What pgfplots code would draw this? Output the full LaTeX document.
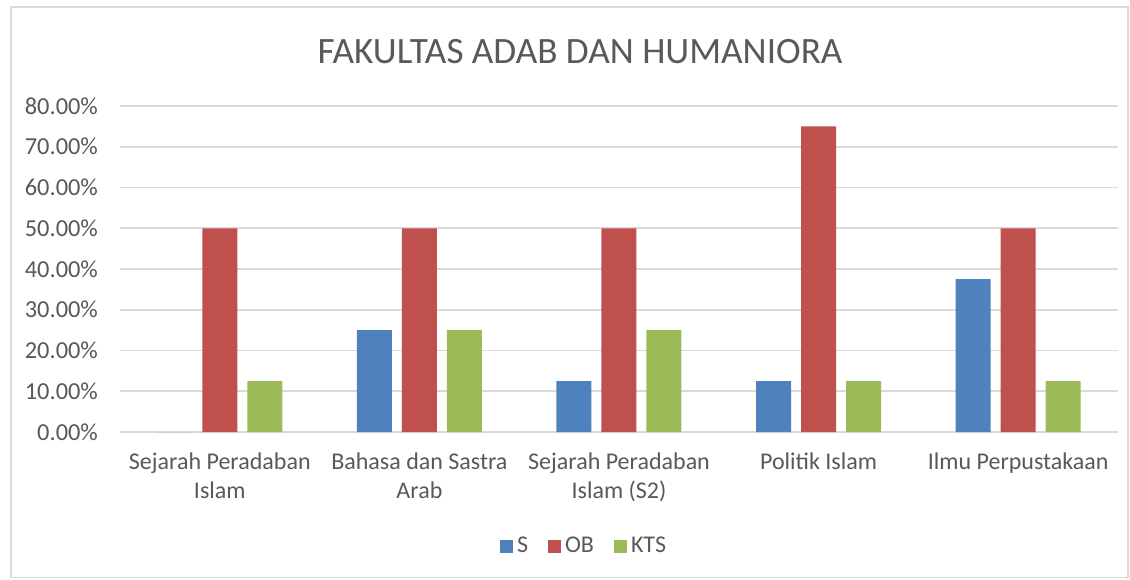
\documentclass[border=0pt]{standalone}
\usepackage{pgfplots}
\pgfplotsset{compat=1.18}
\usepackage{fontspec}
\setmainfont{Carlito}
\definecolor{sblue}{HTML}{4F81BD}
\definecolor{sred}{HTML}{C0504D}
\definecolor{sgreen}{HTML}{9BBB59}
\definecolor{txt}{HTML}{595959}
\definecolor{gridc}{HTML}{D9D9D9}
\begin{document}
\begin{tikzpicture}[x=1pt,y=1pt]
\fill[white] (0,0) rectangle (565,289.5);
\draw[color=gridc, line width=0.7pt] (5.5,0.8) rectangle (564,286);
\node[text=txt, font=\fontsize{18.6}{22}\selectfont] at (290,263.5) {FAKULTAS ADAB DAN HUMANIORA};
\begin{axis}[
  at={(60pt,73.5pt)}, anchor=south west,
  scale only axis, width=499pt, height=163pt,
  xmin=-0.5, xmax=4.5, ymin=0, ymax=80,
  ytick={0,10,...,80},
  yticklabel={\pgfmathprintnumber[fixed,fixed zerofill,precision=2]{\tick}\%},
  /pgf/number format/assume math mode=true,
  xtick={0,1,2,3,4},
  xticklabels={{Sejarah Peradaban\\Islam},{Bahasa dan Sastra\\Arab},{Sejarah Peradaban\\Islam (S2)},{Politik Islam},{Ilmu Perpustakaan}},
  xticklabel style={align=center, font=\fontsize{12}{14.5}\selectfont, text=txt, anchor=north, yshift=-7pt},
  yticklabel style={font=\fontsize{12.2}{14}\selectfont, text=txt, xshift=-7.5pt},
  axis line style={draw=none},
  major tick length=0pt,
  ymajorgrids, grid style={color=gridc, line width=0.8pt},
  ybar=5pt, bar width=17.5pt,
  legend columns=3,
  legend style={draw=none, at={(0.466,-0.35)}, anchor=center, font=\fontsize{12}{14}\selectfont, text=txt,
    /tikz/every even column/.append style={column sep=8pt}},
  legend image code/.code={\fill[#1] (0pt,-3.25pt) rectangle (6.5pt,3.25pt);},
]
\addplot[fill=sblue, draw=none] coordinates {(0,0) (1,25) (2,12.5) (3,12.5) (4,37.5)};
\addplot[fill=sred, draw=none] coordinates {(0,50) (1,50) (2,50) (3,75) (4,50)};
\addplot[fill=sgreen, draw=none] coordinates {(0,12.5) (1,25) (2,25) (3,12.5) (4,12.5)};
\legend{S,OB,KTS}
\end{axis}
\end{tikzpicture}
\end{document}
